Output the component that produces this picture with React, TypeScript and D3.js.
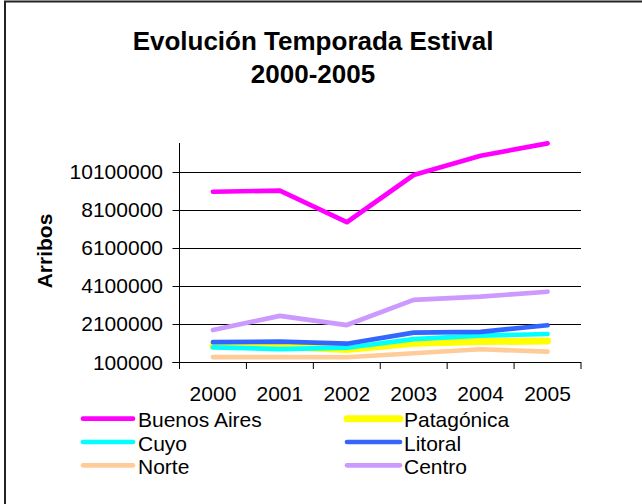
import { useEffect, useRef } from 'react';
import { select, scaleBand, scaleLinear, line } from 'd3';

// categories + series
const years = ['2000', '2001', '2002', '2003', '2004', '2005'];
const buenosAires = [9040000, 9100000, 7440000, 9920000, 10930000, 11580000];
const patagonica = [940000, 920000, 750000, 1080000, 1170000, 1200000];
const cuyo = [870000, 780000, 850000, 1300000, 1480000, 1570000];
const litoral = [1140000, 1170000, 1060000, 1640000, 1680000, 2030000];
const norte = [360000, 360000, 350000, 560000, 770000, 640000];
const centro = [1780000, 2520000, 2040000, 3360000, 3530000, 3790000];

const seriesNames = ['Buenos Aires', 'Patagónica', 'Cuyo', 'Litoral', 'Norte', 'Centro'];
const seriesValues = [buenosAires, patagonica, cuyo, litoral, norte, centro];
const seriesColors = ['#ff00ff', '#ffff00', '#00ffff', '#3366ff', '#ffcc99', '#cc99ff'];
const yTicks = [100000, 2100000, 4100000, 6100000, 8100000, 10100000];

const W = 642;
const H = 504;
const FONT = '"Liberation Sans", Arial, sans-serif';

export default function App() {
  const ref = useRef<SVGSVGElement>(null);

  useEffect(() => {
    const svg = select(ref.current);
    svg.selectAll('*').remove();

    // plot area edges
    const left = 179.5, right = 581, top = 143, bottom = 362;

    const x = scaleBand().domain(years).range([left, right]);
    const y = scaleLinear().domain([100000, 11600000]).range([bottom, top]);

    // chart area border (only top + left show in the picture)
    svg.append('rect')
      .attr('x', 5).attr('y', 1.5)
      .attr('width', 800).attr('height', 700)
      .attr('fill', 'white').attr('stroke', '#222').attr('stroke-width', 2);

    // title
    const title = svg.append('text')
      .attr('text-anchor', 'middle')
      .style('font-family', FONT)
      .style('font-weight', 'bold')
      .style('font-size', '26px');
    title.append('tspan').attr('x', 313).attr('y', 50).text('Evolución Temporada Estival');
    title.append('tspan').attr('x', 313).attr('y', 83).text('2000-2005');

    // gridlines
    svg.append('g')
      .selectAll('line')
      .data(yTicks.slice(1))
      .join('line')
      .attr('x1', left).attr('x2', right)
      .attr('y1', (d) => Math.round(y(d)) + 0.5)
      .attr('y2', (d) => Math.round(y(d)) + 0.5)
      .attr('stroke', '#000').attr('stroke-width', 1);

    // y axis
    const ya = svg.append('g');
    ya.append('line')
      .attr('x1', left).attr('x2', left)
      .attr('y1', top).attr('y2', bottom)
      .attr('stroke', '#000');
    ya.selectAll('line.tick')
      .data(yTicks)
      .join('line')
      .attr('class', 'tick')
      .attr('x1', left - 7).attr('x2', left)
      .attr('y1', (d) => Math.round(y(d)) + 0.5)
      .attr('y2', (d) => Math.round(y(d)) + 0.5)
      .attr('stroke', '#000');
    ya.selectAll('text')
      .data(yTicks)
      .join('text')
      .attr('x', 163)
      .attr('y', (d) => y(d))
      .attr('dy', '0.36em')
      .attr('text-anchor', 'end')
      .style('font-family', FONT)
      .style('font-size', '21px')
      .text((d) => String(d));

    // x axis
    const xa = svg.append('g');
    xa.append('line')
      .attr('x1', left - 7).attr('x2', right)
      .attr('y1', bottom + 0.5).attr('y2', bottom + 0.5)
      .attr('stroke', '#000');
    const bounds = years.map((d) => x(d) as number).concat([right]);
    xa.selectAll('line.tick')
      .data(bounds)
      .join('line')
      .attr('class', 'tick')
      .attr('x1', (d) => d).attr('x2', (d) => d)
      .attr('y1', bottom).attr('y2', bottom + 7)
      .attr('stroke', '#000');
    xa.selectAll('text')
      .data(years)
      .join('text')
      .attr('x', (d) => (x(d) as number) + x.bandwidth() / 2)
      .attr('y', 400.5)
      .attr('text-anchor', 'middle')
      .style('font-family', FONT)
      .style('font-size', '21px')
      .text((d) => d);

    // y axis title
    svg.append('text')
      .attr('transform', 'translate(52,251) rotate(-90)')
      .attr('text-anchor', 'middle')
      .style('font-family', FONT)
      .style('font-weight', 'bold')
      .style('font-size', '21px')
      .text('Arribos');

    // series lines
    const lineGen = line<number>()
      .x((_, i) => (x(years[i]) as number) + x.bandwidth() / 2)
      .y((d) => y(d));

    svg.append('g')
      .selectAll('path')
      .data(seriesValues)
      .join('path')
      .attr('d', (d) => lineGen(d))
      .attr('fill', 'none')
      .attr('stroke', (_, i) => seriesColors[i])
      .attr('stroke-width', (_, i) => (i === 1 ? 7 : 4.7))
      .attr('stroke-linecap', 'round')
      .attr('stroke-linejoin', 'round');

    // legend, 2 columns x 3 rows
    const legend = svg.append('g')
      .selectAll('g')
      .data(seriesNames)
      .join('g')
      .attr('transform', (_, i) => {
        const col = i % 2;
        const row = Math.floor(i / 2);
        return `translate(${col === 0 ? 83 : 347},${418.7 + row * 23.3})`;
      });
    legend.append('line')
      .attr('x1', 0).attr('x2', (_, i) => (i % 2 === 0 ? 50 : 53))
      .attr('stroke', (_, i) => seriesColors[i])
      .attr('stroke-width', (_, i) => (i === 1 ? 7 : 4.7))
      .attr('stroke-linecap', 'round');
    legend.append('text')
      .attr('x', (_, i) => (i % 2 === 0 ? 55 : 57))
      .attr('y', 8.5)
      .style('font-family', FONT)
      .style('font-size', '21px')
      .text((d) => d);
  }, []);

  return (
    <svg
      ref={ref}
      width={W}
      height={H}
      style={{ position: 'absolute', left: 0, top: 0, background: 'white' }}
    />
  );
}
